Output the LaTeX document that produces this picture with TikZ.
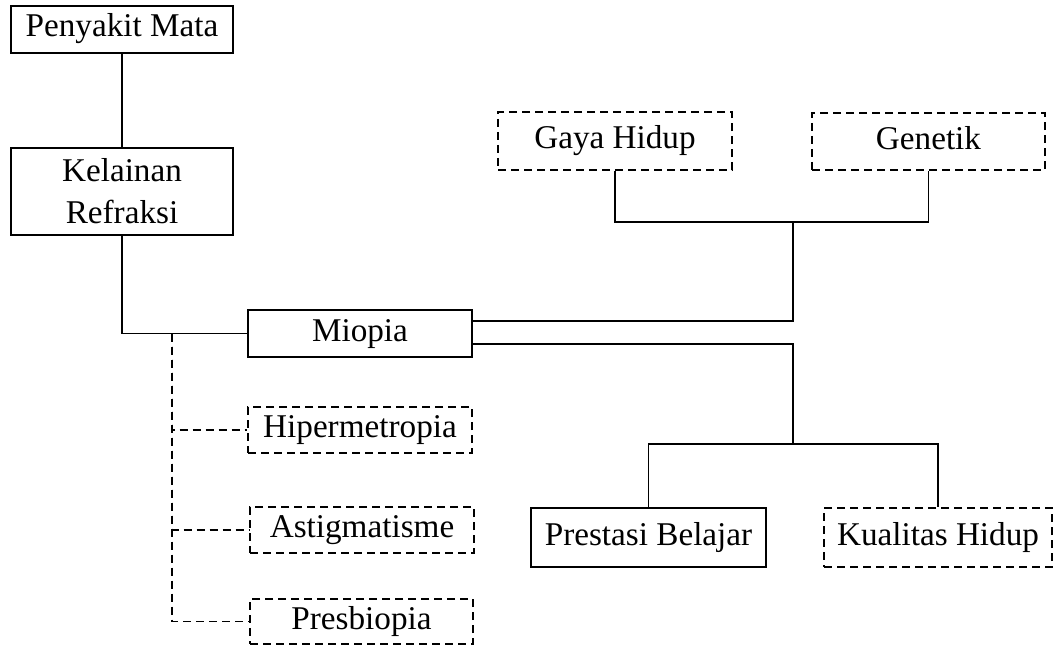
\documentclass[tikz,border=0pt]{standalone}
\usepackage{fontspec}
\setmainfont{Liberation Serif}
\usetikzlibrary{calc}

\begin{document}
\begin{tikzpicture}[x=0.5pt, y=-0.5pt,
    every node/.style={font=\fontsize{16.6}{21}\selectfont},
    solidbox/.style={draw, line width=0.9pt, inner sep=0pt, align=center},
    dashbox/.style={solidbox, dash pattern=on 4pt off 2.5pt},
    oneline/.style={text height=11.5pt, text depth=4pt},
    link/.style={line width=0.9pt},
    dashlink/.style={link, dash pattern=on 4pt off 2.5pt}]
    \useasboundingbox (0,0) rectangle (1059,647);

    % Left column
    \node[solidbox, oneline, minimum width=111pt, minimum height=23.5pt] (mata) at (122,29.5) {Penyakit Mata};
    \node[solidbox, minimum width=111pt, minimum height=43.5pt] (refraksi) at (122,191.5) {Kelainan\\Refraksi};

    % Middle column
    \node[solidbox, oneline, minimum width=112pt, minimum height=23.5pt] (miopia) at (360,333.5) {Miopia};
    \node[dashbox, oneline, minimum width=112pt, minimum height=23pt] (hiper) at (360,430) {Hipermetropia};
    \node[dashbox, oneline, minimum width=112pt, minimum height=23pt] (astig) at (362,530) {Astigmatisme};
    \node[dashbox, oneline, minimum width=111.5pt, minimum height=22.5pt] (presb) at (361.5,621.5) {Presbiopia};

    % Causes
    \node[dashbox, oneline, minimum width=117pt, minimum height=29pt] (gaya) at (615,141) {Gaya Hidup};
    \node[dashbox, oneline, minimum width=116.5pt, minimum height=28.5pt] (genetik) at (928.5,141.5) {Genetik};

    % Effects
    \node[solidbox, oneline, minimum width=117.5pt, minimum height=29.5pt] (prestasi) at (648.5,537.5) {Prestasi Belajar};
    \node[dashbox, oneline, minimum width=114pt, minimum height=29.5pt] (kualitas) at (938,537.5) {Kualitas Hidup};

    % Junctions
    \coordinate (split) at (172,333.5);
    \coordinate (causes) at (793,222);
    \coordinate (effects) at (793,444);

    % Solid connectors
    \draw[link] (mata) -- (refraksi);
    \draw[link] (refraksi.south) |- (miopia.west);
    \draw[link] (gaya.south) |- (causes) -| (genetik.south);
    \draw[link] (causes) |- ($(miopia.east)+(0,-12.5)$);
    \draw[link] ($(miopia.east)+(0,10.5)$) -| (effects);
    \draw[link] (prestasi.north) |- (effects) -| (kualitas.north);

    % Dashed branches
    \draw[dashlink] (split) |- (hiper.west);
    \draw[dashlink] (split) |- (astig.west);
    \draw[dashlink] (split) |- (presb.west);
\end{tikzpicture}
\end{document}
